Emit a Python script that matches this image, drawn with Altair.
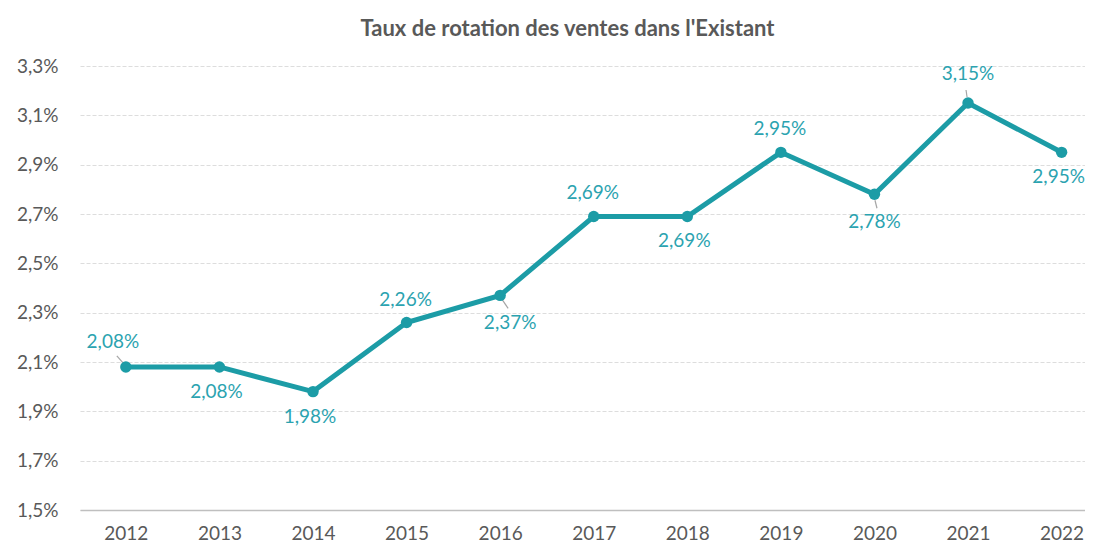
import altair as alt
import pandas as pd

years = [2012, 2013, 2014, 2015, 2016, 2017, 2018, 2019, 2020, 2021, 2022]
taux = [2.08, 2.08, 1.98, 2.26, 2.37, 2.69, 2.69, 2.95, 2.78, 3.15, 2.95]
labels = ["2,08%", "2,08%", "1,98%", "2,26%", "2,37%", "2,69%", "2,69%", "2,95%", "2,78%", "3,15%", "2,95%"]
placement = ["haut_gauche", "bas", "bas", "haut", "bas_droite", "haut", "bas", "haut", "bas_loin", "haut_loin", "bas"]
y_ticks = [1.5, 1.7, 1.9, 2.1, 2.3, 2.5, 2.7, 2.9, 3.1, 3.3]

df = pd.DataFrame({"annee": years, "taux": taux, "label": labels, "place": placement})

TEAL = "#1C9CA6"
LABEL_TEAL = "#2BA3B0"
GREY = "#595959"
FONT = "Lato"

x = alt.X("annee:Q", scale=alt.Scale(domain=[2011.51, 2022.25], nice=False, zero=False),
          axis=alt.Axis(values=years, format="d", grid=False, ticks=False, domain=True,
                        domainColor="#BFBFBF", domainWidth=1.5, labelFontSize=19,
                        labelColor=GREY, labelFont=FONT, labelPadding=14, title=None))
y = alt.Y("taux:Q", scale=alt.Scale(domain=[1.5, 3.3], nice=False, zero=False),
          axis=alt.Axis(values=y_ticks, labelExpr="replace(format(datum.value, '.1f'), '.', ',') + '%'",
                        grid=True, gridColor="#DDDDDD", gridDash=[4, 2], gridWidth=1,
                        ticks=False, domain=False, labelFontSize=19, labelColor=GREY,
                        labelFont=FONT, labelPadding=22, title=None))

base = alt.Chart(df)

line = base.mark_line(color=TEAL, strokeWidth=5).encode(x=x, y=y)
pts = base.mark_point(filled=True, color=TEAL, size=130, opacity=1).encode(x=x, y=y)

leader_places = ["haut_gauche", "bas_droite", "bas_loin", "haut_loin"]
leader_paths = ["M-0.9,-1.1L-0.15,-0.25", "M0.15,0.35L0.8,1.3", "M0.05,0.6L0.25,1.4", "M-0.1,-0.6L-0.2,-1.3"]
leaders = base.transform_filter(
    alt.FieldOneOfPredicate(field="place", oneOf=leader_places)
).mark_point(filled=False, strokeWidth=1.2, color="#A6A6A6", size=400, opacity=1).encode(
    x=x, y=y,
    shape=alt.Shape("place:N", scale=alt.Scale(domain=leader_places, range=leader_paths), legend=None),
)

offsets = {
    "haut": (-1, -23),
    "bas": (-3, 25),
    "haut_gauche": (-13, -25),
    "bas_droite": (10, 28),
    "bas_loin": (0, 28),
    "haut_loin": (0, -29),
}
text_layers = []
for p, (dx, dy) in offsets.items():
    text_layers.append(
        base.transform_filter(alt.datum.place == p).mark_text(
            dx=dx, dy=dy, fontSize=19, font=FONT, color=LABEL_TEAL, baseline="middle", align="center"
        ).encode(x=x, y=y, text="label:N")
    )

chart = alt.layer(line, leaders, pts, *text_layers).properties(
    width=1005, height=444,
    title=alt.TitleParams("Taux de rotation des ventes dans l'Existant", fontSize=22, font=FONT,
                          fontWeight="bold", color=GREY, offset=16, anchor="middle", dx=-15),
    autosize=alt.AutoSizeParams(type="none"),
    padding={"left": 72, "top": 58, "right": 0, "bottom": 36},
    background="white",
).configure_view(strokeWidth=0, stroke=None)

chart.save("out.html", embed_options={"renderer": "svg", "actions": False})
